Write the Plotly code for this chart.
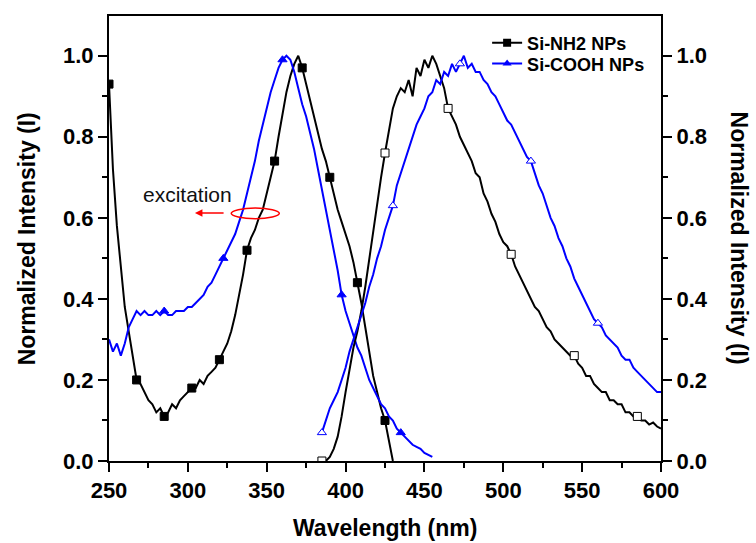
import plotly.graph_objects as go

# ---------------- data ----------------
nh2_ex_wl = [250 + 2.5 * i for i in range(73)]          # 250 .. 430
nh2_ex_int = [0.93, 0.72, 0.58, 0.47, 0.38, 0.32, 0.26, 0.20, 0.19, 0.17,
              0.15, 0.14, 0.12, 0.13, 0.11, 0.12, 0.14, 0.13, 0.15, 0.16,
              0.17, 0.18, 0.18, 0.20, 0.19, 0.21, 0.22, 0.23, 0.25, 0.27,
              0.29, 0.32, 0.36, 0.41, 0.46, 0.52, 0.55, 0.57, 0.60, 0.62,
              0.66, 0.70, 0.74, 0.80, 0.86, 0.91, 0.95, 0.98, 1.00, 0.97,
              0.93, 0.89, 0.85, 0.81, 0.77, 0.74, 0.70, 0.66, 0.62, 0.59,
              0.56, 0.53, 0.49, 0.44, 0.39, 0.33, 0.27, 0.21, 0.17, 0.13,
              0.10, 0.05, 0.00]
nh2_ex_marks = list(range(0, 73, 7))

cooh_ex_wl = [250 + 2.5 * i for i in range(83)]         # 250 .. 455
cooh_ex_int = [0.30, 0.27, 0.29, 0.26, 0.29, 0.33, 0.35, 0.37, 0.36, 0.37,
               0.36, 0.36, 0.37, 0.36, 0.37, 0.36, 0.36, 0.37, 0.37, 0.37,
               0.38, 0.38, 0.39, 0.40, 0.41, 0.43, 0.44, 0.46, 0.48, 0.50,
               0.52, 0.54, 0.56, 0.59, 0.62, 0.66, 0.70, 0.74, 0.79, 0.83,
               0.87, 0.91, 0.94, 0.97, 0.99, 1.00, 0.99, 0.96, 0.92, 0.88,
               0.85, 0.81, 0.77, 0.72, 0.67, 0.62, 0.57, 0.52, 0.47, 0.41,
               0.37, 0.34, 0.31, 0.28, 0.26, 0.23, 0.20, 0.18, 0.16, 0.14,
               0.13, 0.11, 0.10, 0.08, 0.07, 0.06, 0.05, 0.04, 0.035, 0.03,
               0.02, 0.015, 0.01]
cooh_ex_marks = [14, 29, 44, 59, 74]

nh2_em_wl = [385 + 2.5 * i for i in range(87)]          # 385 .. 600
nh2_em_int = [0.00, 0.00, 0.01, 0.03, 0.06, 0.11, 0.17, 0.23, 0.28, 0.32,
              0.37, 0.43, 0.50, 0.57, 0.64, 0.70, 0.76, 0.82, 0.87, 0.90,
              0.92, 0.91, 0.94, 0.90, 0.97, 0.95, 0.99, 0.97, 1.00, 0.98,
              0.95, 0.92, 0.87, 0.85, 0.83, 0.80, 0.78, 0.76, 0.74, 0.71,
              0.70, 0.66, 0.64, 0.61, 0.59, 0.56, 0.54, 0.53, 0.51, 0.48,
              0.46, 0.44, 0.42, 0.40, 0.38, 0.37, 0.35, 0.33, 0.32, 0.30,
              0.29, 0.28, 0.27, 0.26, 0.26, 0.24, 0.23, 0.21, 0.21, 0.19,
              0.18, 0.17, 0.17, 0.15, 0.15, 0.14, 0.14, 0.12, 0.12, 0.11,
              0.11, 0.10, 0.10, 0.09, 0.095, 0.085, 0.08]
nh2_em_marks = [0, 16, 32, 48, 64, 80]

cooh_em_wl = [385 + 2.5 * i for i in range(87)]         # 385 .. 600
cooh_em_int = [0.07, 0.10, 0.13, 0.15, 0.17, 0.20, 0.23, 0.27, 0.30, 0.33,
               0.36, 0.39, 0.43, 0.46, 0.50, 0.53, 0.57, 0.60, 0.63, 0.68,
               0.71, 0.74, 0.77, 0.80, 0.83, 0.85, 0.87, 0.90, 0.91, 0.94,
               0.93, 0.96, 0.95, 0.98, 0.96, 0.98, 1.00, 0.97, 0.98, 0.96,
               0.96, 0.94, 0.93, 0.91, 0.90, 0.88, 0.86, 0.84, 0.83, 0.81,
               0.79, 0.77, 0.75, 0.74, 0.71, 0.68, 0.66, 0.63, 0.60, 0.58,
               0.55, 0.53, 0.50, 0.48, 0.45, 0.43, 0.41, 0.39, 0.37, 0.35,
               0.34, 0.33, 0.31, 0.30, 0.29, 0.28, 0.26, 0.25, 0.25, 0.23,
               0.22, 0.21, 0.20, 0.19, 0.18, 0.17, 0.17]
cooh_em_marks = [0, 18, 35, 53, 70]

series_names = ["Si-NH2 NPs", "Si-COOH NPs"]
x_title = "Wavelength (nm)"
y_title = "Normalized Intensity (I)"
note_text = "excitation"

# ---------------- style ----------------
BLACK = "#000000"
BLUE = "#0000FF"
RED = "#FF0000"
FONT = "Arial, Liberation Sans, sans-serif"

fig = go.Figure()


def add_curve(wl, val, marks, color, symbol, filled, yaxis):
    fig.add_trace(go.Scatter(x=wl, y=val, mode="lines", yaxis=yaxis,
                             line=dict(color=color, width=2),
                             showlegend=False, hoverinfo="skip"))
    fig.add_trace(go.Scatter(x=[wl[i] for i in marks], y=[val[i] for i in marks],
                             mode="markers", yaxis=yaxis, showlegend=False,
                             marker=dict(symbol=symbol, size=8,
                                         color=color if filled else "white",
                                         line=dict(color=color, width=1))))


add_curve(nh2_ex_wl, nh2_ex_int, nh2_ex_marks, BLACK, "square", True, "y")
add_curve(cooh_ex_wl, cooh_ex_int, cooh_ex_marks, BLUE, "triangle-up", True, "y")
add_curve(nh2_em_wl, nh2_em_int, nh2_em_marks, BLACK, "square", False, "y2")
add_curve(cooh_em_wl, cooh_em_int, cooh_em_marks, BLUE, "triangle-up", False, "y2")

# legend entries (one legend box per entry, to control row spacing)
for name, color, symbol, lg in [(series_names[0], BLACK, "square", "legend"),
                                (series_names[1], BLUE, "triangle-up", "legend2")]:
    fig.add_trace(go.Scatter(x=[None], y=[None], mode="lines+markers", name=name,
                             legend=lg, line=dict(color=color, width=2),
                             marker=dict(symbol=symbol, size=8, color=color)))

tickfont = dict(family=FONT, size=22, color=BLACK, weight="bold")
common_axis = dict(showline=True, linewidth=2, linecolor=BLACK, showgrid=False,
                   zeroline=False, ticks="outside", ticklen=9, tickwidth=2,
                   tickcolor=BLACK, tickfont=tickfont)
legend_style = dict(xanchor="left", yanchor="top", bgcolor="rgba(0,0,0,0)",
                    borderwidth=0, itemwidth=30,
                    font=dict(family=FONT, size=18, color=BLACK, weight="bold"))

fig.update_layout(
    width=756, height=543,
    margin=dict(l=109, r=95, t=16, b=82),
    paper_bgcolor="white", plot_bgcolor="white",
    font=dict(family=FONT, color=BLACK),
    xaxis=dict(range=[250, 600], tick0=250, dtick=50, mirror=True,
               minor=dict(dtick=25, tick0=250, ticks="outside", ticklen=5,
                          tickwidth=2, tickcolor=BLACK, showgrid=False),
               **common_axis),
    yaxis=dict(range=[0, 1.098], tick0=0, dtick=0.2, tickformat=".1f",
               minor=dict(dtick=0.1, tick0=0, ticks="outside", ticklen=5,
                          tickwidth=2, tickcolor=BLACK, showgrid=False),
               **common_axis),
    yaxis2=dict(range=[0, 1.098], tick0=0, dtick=0.2, tickformat=".1f",
                overlaying="y", side="right", anchor="x",
                minor=dict(dtick=0.1, tick0=0, ticks="outside", ticklen=5,
                           tickwidth=2, tickcolor=BLACK, showgrid=False),
                **common_axis),
    legend=dict(x=0.685, y=0.981, **legend_style),
    legend2=dict(x=0.685, y=0.934, **legend_style),
    showlegend=True,
)

# axis titles
title_font = dict(family=FONT, size=23, color=BLACK, weight="bold")
fig.add_annotation(text=x_title, xref="paper", yref="paper", x=0.5, y=-0.15,
                   xanchor="center", yanchor="middle", showarrow=False, font=title_font)
fig.add_annotation(text=y_title, xref="paper", yref="paper", x=-0.149, y=0.5,
                   xanchor="center", yanchor="middle", textangle=-90,
                   showarrow=False, font=title_font)
fig.add_annotation(text=y_title, xref="paper", yref="paper", x=1.143, y=0.5,
                   xanchor="center", yanchor="middle", textangle=90,
                   showarrow=False, font=title_font)

# excitation note
fig.add_annotation(text=note_text, xref="x", yref="y", x=300, y=0.657,
                   xanchor="center", yanchor="middle", showarrow=False,
                   font=dict(family=FONT, size=21, color="#111111"))
fig.add_annotation(text="", xref="x", yref="y", x=304.5, y=0.612,
                   ax=323.6, ay=0.612, axref="x", ayref="y",
                   showarrow=True, arrowhead=2, arrowsize=1, arrowwidth=1.5,
                   arrowcolor=RED)
fig.add_shape(type="circle", xref="x", yref="y", x0=327.5, x1=358,
              y0=0.598, y1=0.624, line=dict(color=RED, width=1.5))

fig.write_html("out.html", config={"displayModeBar": False},
               post_script="document.body.style.margin='0px';")
